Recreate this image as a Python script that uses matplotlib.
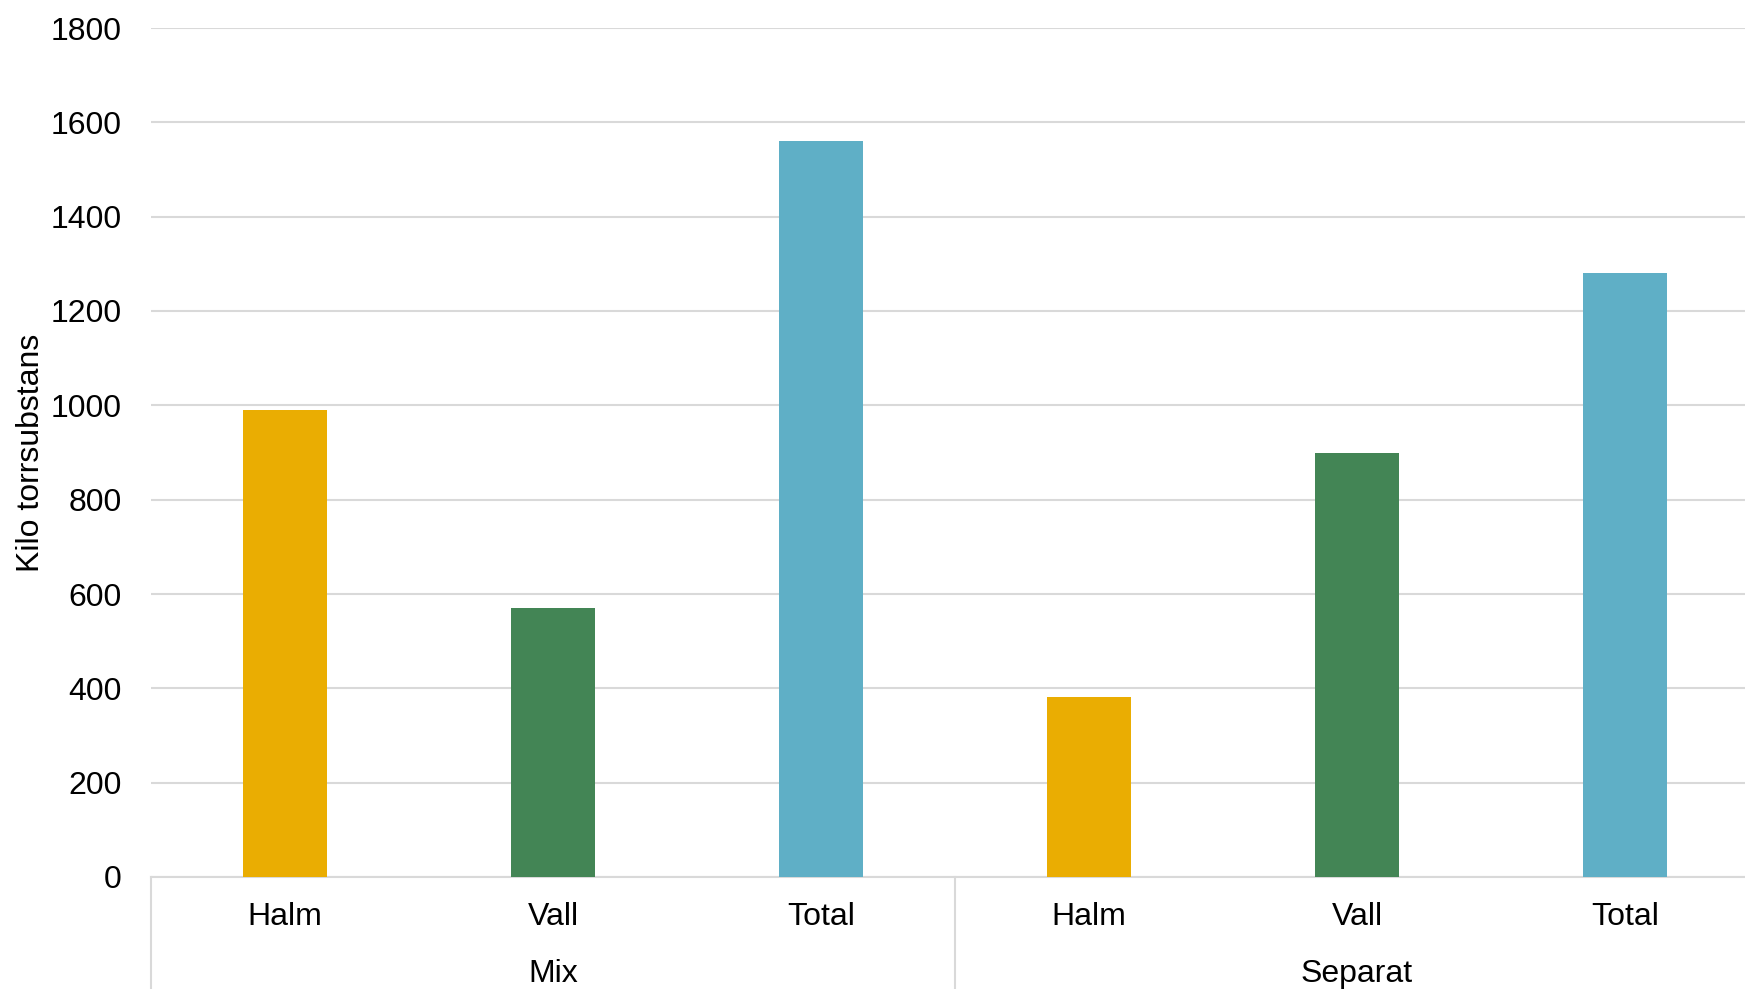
import matplotlib
matplotlib.use('Agg')
import matplotlib.pyplot as plt
import matplotlib.transforms as mtransforms
import numpy as np

plt.rcParams['font.family'] = ['Liberation Sans', 'DejaVu Sans']

groups = ['Mix', 'Separat']
categories = ['Halm', 'Vall', 'Total']
mix_values = [990, 570, 1560]
separat_values = [382, 900, 1280]
colors = ['#EAAD02', '#438555', '#5FAFC6']
yticks = np.arange(0, 1801, 200)

grid_col = '#D9D9D9'

fig = plt.figure(figsize=(17.45, 9.89), dpi=100)
ax = fig.add_axes([151/1745, 112/989, 6*268/1745, 849/989])

values = mix_values + separat_values
bar_colors = colors * len(groups)
x = np.arange(len(values))
ax.bar(x, values, width=0.31, color=bar_colors, zorder=3)

ax.set_xlim(-0.5, len(values) - 0.5)
ax.set_ylim(0, 1800)
ax.set_yticks(yticks)
ax.set_yticklabels([str(v) for v in yticks], fontsize=23)
ax.tick_params(axis='y', length=0, pad=21)
ax.set_xticks([])
ax.yaxis.grid(True, color=grid_col, linewidth=1.5, zorder=0)
for s in ['top', 'right', 'left']:
    ax.spines[s].set_visible(False)
ax.spines['bottom'].set_color(grid_col)
ax.spines['bottom'].set_linewidth(1.5)

ax.set_ylabel('Kilo torrsubstans', fontsize=23)
ax.yaxis.set_label_coords(-0.065, 0.5)

trans = mtransforms.blended_transform_factory(ax.transData, ax.transAxes)
for i, lab in enumerate(categories * len(groups)):
    ax.text(i, -0.047, lab, transform=trans, ha='center', va='center', fontsize=23)
for g, name in enumerate(groups):
    ax.text(g * 3 + 1, -0.114, name, transform=trans, ha='center', va='center', fontsize=23)
for xs in [-0.5, 2.5, 5.5]:
    ax.plot([xs, xs], [0, -0.14], transform=trans, color=grid_col, linewidth=1.5, clip_on=False)

fig.savefig('out.png', dpi=100)
